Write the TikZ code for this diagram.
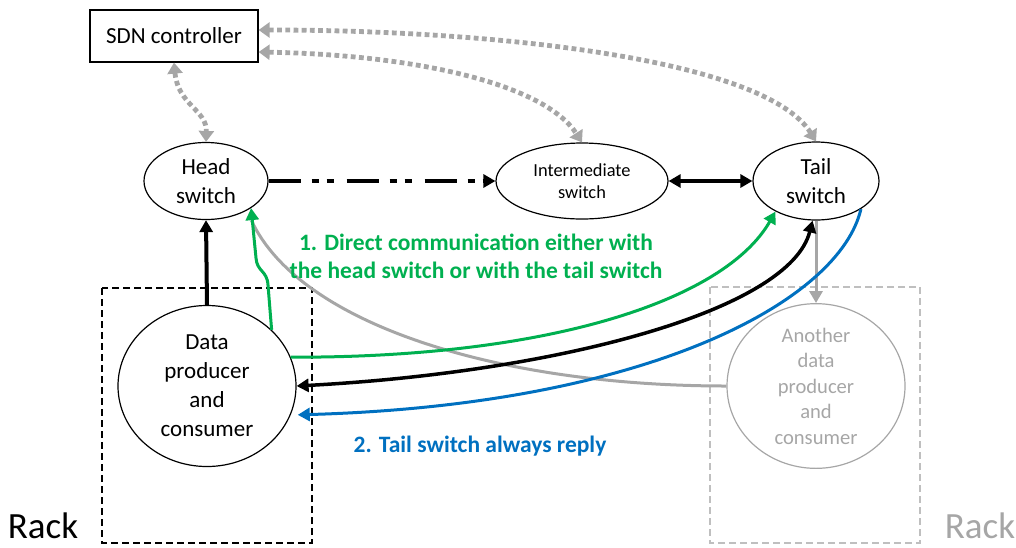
\documentclass[tikz,border=0pt]{standalone}
\usepackage{fontspec}
\setmainfont{Carlito}
\usetikzlibrary{shapes.geometric,arrows.meta}
\definecolor{ggray}{HTML}{A6A6A6}
\definecolor{lgray}{HTML}{BFBFBF}
\definecolor{ggreen}{HTML}{00B050}
\definecolor{bblue}{HTML}{0070C0}
\begin{document}
\begin{tikzpicture}[x=1pt,y=-1pt,
  ell/.style={draw, ellipse, line width=1.2pt, inner sep=0pt, align=center},
  bigtxt/.style={font=\fontsize{23}{29}\selectfont},
  smalltxt/.style={font=\fontsize{18.4}{22.5}\selectfont},
  tipk/.style={-{Triangle[length=12pt,width=13pt]}},
  tipkk/.style={{Triangle[length=12pt,width=13pt]}-{Triangle[length=12pt,width=13pt]}},
  ctrl/.style={ggray, line width=4.8pt, dash pattern=on 4.8pt off 3.4pt,
     {Triangle[length=11pt,width=15pt]}-{Triangle[length=11pt,width=15pt]}},
  rackbox/.style={dashed, dash pattern=on 7pt off 4pt, line width=1.1pt},
]
\useasboundingbox (0,0) rectangle (1016,547);

% racks
\draw[rackbox] (102,288) rectangle (312,543);
\draw[rackbox, lgray] (710,287) rectangle (920,543);
\node[font=\fontsize{37}{40}\selectfont, anchor=base] (rackl) at (43,538) {Rack};
\node[font=\fontsize{37}{40}\selectfont, anchor=base, text=ggray] (rackr) at (980,538) {Rack};

% nodes
\node[draw, line width=1.2pt, minimum width=168pt, minimum height=52pt, inner sep=0pt, bigtxt] (sdn) at (174,36) {SDN controller};
\node[ell, bigtxt, minimum width=124pt, minimum height=77pt] (head) at (206,181) {Head\\switch};
\node[ell, smalltxt, minimum width=172pt, minimum height=76pt] (inter) at (582,181) {Intermediate\\switch};
\node[ell, bigtxt, minimum width=126pt, minimum height=78pt] (tail) at (816,181) {Tail\\switch};
\node[ell, bigtxt, minimum width=178pt, minimum height=161pt] (dp) at (207,386) {Data\\producer\\and\\consumer};
\node[ell, draw=ggray, text=ggray, font=\fontsize{20.6}{25.5}\selectfont, minimum width=178pt, minimum height=161pt] (ano) at (816,386) {Another\\data\\producer\\and\\consumer};

% controller links
\draw[ctrl] (sdn.south) .. controls (178,105) and (207,110) .. (head.north);
\draw[ctrl] ([yshift=-16pt]sdn.east) .. controls (420,55) and (545,85) .. (inter.north);
\draw[ctrl] ([yshift=6pt]sdn.east) .. controls (500,30) and (765,60) .. (tail.north);

% gray links from another producer
\draw[ggray, line width=3pt] (ano.west) .. controls (500,386) and (300,325) .. ([shift={(8pt,-8pt)}]head.-40);
\draw[ggray, line width=3pt, tipk] (tail.south) -- (ano.north);

% switch chain
\draw[line width=4pt, tipk, dash pattern=on 32pt off 11pt on 7pt off 8pt on 7pt off 13pt] (head.east) -- (inter.west);
\draw[line width=4pt, tipkk] (inter.east) -- (tail.west);
\draw[line width=4pt, tipk] (dp.north) -- (head.south);

% green
\draw[ggreen, line width=3pt, tipk] (dp.41) -- (268,285) .. controls (267,270) and (257,272) .. (256,258) -- (head.-31);
\draw[ggreen, line width=3pt, tipk] (dp.19) .. controls (550,358) and (725,300) .. (tail.217);

% black reply
\draw[line width=3.5pt, tipkk] (tail.265) .. controls (790,310) and (560,372) .. (dp.east);

% blue
\draw[bblue, line width=3pt, tipk] (tail.-32) .. controls (840,300) and (650,405) .. ([xshift=7pt]dp.-19);

% labels
\node[text=ggreen, font=\bfseries\fontsize{23.5}{28}\selectfont, align=center] (lab1) at (476,256) {1. Direct communication either with\\the head switch or with the tail switch};
\node[text=bblue, font=\bfseries\fontsize{23.5}{28}\selectfont] (lab2) at (480,446) {2. Tail switch always reply};
\end{tikzpicture}
\end{document}
